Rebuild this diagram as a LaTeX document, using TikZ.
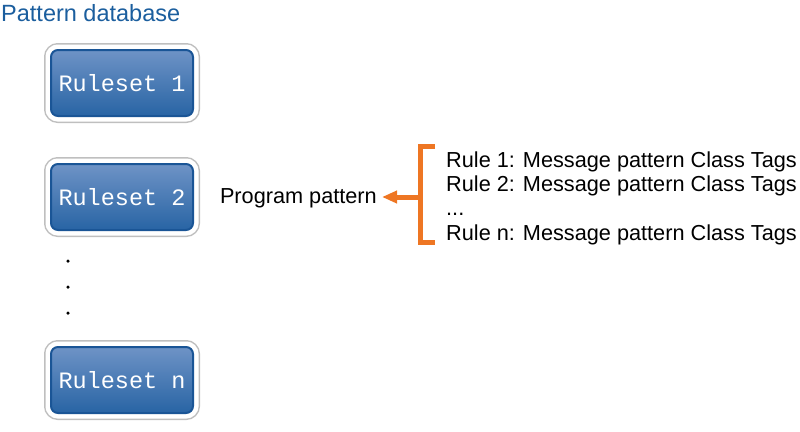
\documentclass[tikz,border=0pt]{standalone}
\usepackage{fontspec}
\setmainfont{Liberation Sans}
\newfontfamily\rsfont{Liberation Mono}
\usetikzlibrary{positioning,calc,arrows.meta}
\definecolor{pdblue}{HTML}{1B5E9E}
\definecolor{rsedge}{HTML}{1A5596}
\definecolor{rstop}{HTML}{6E93C6}
\definecolor{rsbot}{HTML}{2864A4}
\definecolor{pdorange}{HTML}{EE7623}
\tikzset{
  titulo/.style={font=\fontsize{23.5}{27}\selectfont,text=pdblue,inner sep=0pt},
  ruleset/.style={rounded corners=7pt,draw=rsedge,line width=2pt,
    top color=rstop,bottom color=rsbot,minimum width=142pt,minimum height=66pt,
    text=white,font=\rsfont\fontsize{23.5}{27}\selectfont,inner sep=0pt,
    preaction={draw=black!25,line width=14pt},
    preaction={draw=white,line width=11pt}},
  ponto/.style={circle,fill=black,inner sep=0pt,minimum size=3.5pt},
  linha/.style={font=\fontsize{21.7}{24}\selectfont,anchor=west,inner sep=0pt,
    text height=15pt,text depth=5pt},
}
\begin{document}
\begin{tikzpicture}[x=1pt,y=-1pt,
  chave/.style={draw=pdorange,line width=5pt},
  seta/.style={-{Triangle[length=15pt,width=12pt]},draw=pdorange,line width=5pt}]
  \useasboundingbox (0,0) rectangle (800,431);
  \node[titulo,anchor=base west] (tit) at (1,21) {Pattern database};
  \node[ruleset] (r1) at (122,83) {Ruleset 1};
  \node[ruleset,below=46pt of r1] (r2) {Ruleset 2};
  \node[ruleset] (rn) at (122,380) {Ruleset n};
  \foreach \k/\y in {1/261,2/287,3/313} \node[ponto] (p\k) at (68,\y) {};
  \node[linha] (l1) at (446,162) {Rule 1: Message pattern Class Tags};
  \node[linha,below=4pt of l1.south west,anchor=north west] (l2) {Rule 2: Message pattern Class Tags};
  \node[linha,below=4pt of l2.south west,anchor=north west] (l3) {...};
  \node[linha,below=4pt of l3.south west,anchor=north west] (l4) {Rule n: Message pattern Class Tags};
  \node[font=\fontsize{21.7}{24}\selectfont,anchor=base east,inner sep=0pt] (prog) at (377,203) {Program pattern};
  \coordinate (btop) at (420,146);
  \coordinate (bbot) at (420,242);
  \coordinate (bmid) at (420,197);
  \draw[chave] ([xshift=15pt]btop) -- (btop) -- (bbot) -- ([xshift=15pt]bbot);
  \draw[seta] (bmid) -- ([xshift=5pt]bmid -| prog.east);
\end{tikzpicture}
\end{document}
